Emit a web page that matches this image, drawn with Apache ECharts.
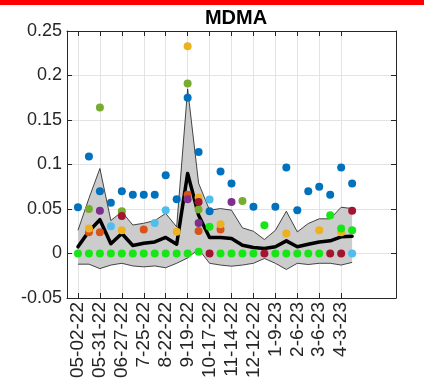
<!DOCTYPE html>
<html>
<head>
<meta charset="utf-8">
<script src="https://cdn.jsdelivr.net/npm/echarts@6/dist/echarts.min.js"></script>
<style>
  html, body { margin: 0; padding: 0; background: #fff; }
  #chart { width: 424px; height: 390px; }
</style>
</head>
<body>
<div id="chart"></div>
<script>
// Tick labels: one every four weeks (every other biweekly sample)
const tickLabels = ['05-02-22', '05-31-22', '06-27-22', '7-25-22', '8-22-22', '9-19-22',
  '10-17-22', '11-14-22', '12-12-22', '1-9-23', '2-6-23', '3-6-23', '4-3-23'];

// 26 biweekly samples per site (null = no visible marker)
const siteBlue = [0.052, 0.109, 0.070, 0.057, 0.070, 0.066, 0.066, 0.066, 0.088, 0.061, 0.175, 0.114, 0.0475,
  0.092, 0.0787, null, 0.0524, null, 0.0524, 0.0966, 0.0487, 0.070, 0.075, 0.066, 0.0966, 0.0787];
const siteOrange = [null, 0.024, 0.024, null, null, null, 0.027, null, null, null, 0.066, 0.0254, null,
  0.027, null, null, null, null, null, null, null, null, null, null, null, null];
const siteYellow = [null, 0.028, null, null, 0.026, null, null, null, null, 0.0243, 0.233, 0.063, null,
  0.033, null, null, null, null, null, 0.0225, null, null, 0.026, null, 0.024, null];
const sitePurple = [null, null, 0.048, null, null, null, null, null, null, null, 0.061, 0.0344, null,
  null, 0.058, null, null, null, null, null, null, null, null, null, null, null];
const siteGreen = [null, 0.050, 0.164, null, 0.0475, null, null, null, null, null, 0.191, 0.0494, null,
  null, null, 0.059, null, null, null, null, null, null, null, null, null, null];
const siteLightBlue = [null, null, null, 0.0307, null, null, null, 0.0344, 0.0485, null, null, null, 0.0607,
  null, null, null, null, null, null, null, null, null, null, null, null, 0];
const siteDarkRed = [null, null, null, null, 0.042, null, null, null, null, null, null, 0.058, 0,
  null, null, null, null, 0, null, null, null, null, null, 0, 0, 0.048];
const siteLime = [0, 0, 0, 0, 0, 0, 0, 0, 0, 0, 0, 0.002, 0.030,
  0, 0, 0, 0, 0.0318, 0, 0, 0, 0, 0, 0.043, 0.028, 0.026];

// Mean across sites and the shaded spread around it
const meanLine = [0.0075, 0.025, 0.038, 0.011, 0.0225, 0.009, 0.0115, 0.013, 0.018, 0.0105, 0.090, 0.043, 0.018,
  0.018, 0.0168, 0.0093, 0.0067, 0.0056, 0.0075, 0.0142, 0.0075, 0.0104, 0.013, 0.0142, 0.0187, 0.0194];
const bandUpper = [0.026, 0.062, 0.0955, 0.037, 0.047, 0.032, 0.034, 0.037, 0.045, 0.030, 0.185, 0.079, 0.0487,
  0.0505, 0.0487, 0.0288, 0.025, 0.0157, 0.026, 0.0475, 0.0243, 0.0337, 0.039, 0.039, 0.052, 0.0505];
const bandLower = [-0.012, -0.012, -0.017, -0.013, -0.011, -0.014, -0.015, -0.014, -0.016, -0.011, -0.005, 0.005, -0.011,
  -0.013, -0.0143, -0.013, -0.011, -0.0056, -0.011, -0.018, -0.011, -0.0124, -0.011, -0.011, -0.013, -0.010];

// Axis slots: one empty slot before the first sample, four after the last
const slotCount = 31;
const slots = Array.from({ length: slotCount }, (_, k) => String(k));
const pad = arr => [null, ...arr, null, null, null, null];
const isTickSlot = idx => idx % 2 === 1 && idx <= 25;

const textColor = '#262626';
const font = 'Liberation Sans, Arial, Helvetica, sans-serif';

const sites = [
  ['Site A', siteBlue, '#0072BD'],
  ['Site B', siteOrange, '#D95319'],
  ['Site C', siteYellow, '#EDB120'],
  ['Site D', sitePurple, '#7E2F8E'],
  ['Site E', siteGreen, '#77AC30'],
  ['Site F', siteLightBlue, '#4DBEEE'],
  ['Site G', siteDarkRed, '#A2142F'],
  ['Site H', siteLime, '#16E616']
];

const chart = echarts.init(document.getElementById('chart'), null, { renderer: 'canvas' });

const xBase = {
  type: 'category',
  data: slots,
  boundaryGap: false,
  axisLine: { show: true, onZero: false, lineStyle: { color: textColor, width: 1 } },
  axisTick: { show: true, inside: true, length: 5, interval: isTickSlot, lineStyle: { color: textColor } }
};
const yBase = {
  type: 'value',
  min: -0.05,
  max: 0.25,
  interval: 0.05,
  axisLine: { show: true, lineStyle: { color: textColor, width: 1 } },
  axisTick: { show: true, inside: true, length: 5, lineStyle: { color: textColor } }
};

const series = [
  {
    type: 'line', stack: 'spread', stackStrategy: 'all', data: pad(bandLower),
    symbol: 'none', lineStyle: { width: 0 }, silent: true, z: 1
  },
  {
    type: 'line', stack: 'spread', stackStrategy: 'all',
    data: pad(bandUpper.map((u, i) => u - bandLower[i])),
    symbol: 'none', lineStyle: { width: 0 },
    areaStyle: { color: '#cccccc', opacity: 1 }, silent: true, z: 1
  },
  {
    type: 'line', data: pad(bandUpper), symbol: 'none',
    lineStyle: { color: '#1a1a1a', width: 0.8 }, silent: true, z: 2
  },
  {
    type: 'line', data: pad(bandLower), symbol: 'none',
    lineStyle: { color: '#1a1a1a', width: 0.8 }, silent: true, z: 2
  },
  {
    type: 'line', data: pad(meanLine), symbol: 'none',
    lineStyle: { color: '#000', width: 3.5, join: 'round', cap: 'round' }, silent: true, z: 3
  }
];
sites.forEach(([name, values, color]) => {
  series.push({
    name, type: 'scatter', data: pad(values), symbol: 'circle', symbolSize: 8,
    itemStyle: { color, opacity: 1 }, silent: true, z: 4
  });
});

chart.setOption({
  animation: false,
  backgroundColor: '#ffffff',
  graphic: [{
    type: 'rect', left: 0, top: 0, z: 10,
    shape: { width: 424, height: 5 },
    style: { fill: '#ff0000' }
  }],
  title: {
    text: 'MDMA',
    left: 231, top: 3, textAlign: 'center',
    textStyle: { fontFamily: font, fontSize: 20, fontWeight: 'bold', color: '#000' }
  },
  grid: { left: 67, top: 31, width: 329, height: 267, containLabel: false },
  xAxis: [
    Object.assign({}, xBase, {
      position: 'bottom',
      axisLabel: {
        show: true, interval: isTickSlot, rotate: 90, margin: 4,
        fontFamily: font, fontSize: 19, color: textColor,
        formatter: (v, idx) => isTickSlot(idx) ? tickLabels[(idx - 1) / 2] : ''
      },
      splitLine: { show: true, interval: isTickSlot, lineStyle: { color: '#e3e3e3', width: 1 } }
    }),
    Object.assign({}, xBase, {
      position: 'top',
      axisLabel: { show: false },
      splitLine: { show: false }
    })
  ],
  yAxis: [
    Object.assign({}, yBase, {
      position: 'left',
      axisLabel: { show: true, margin: 5, fontFamily: font, fontSize: 18, color: textColor },
      splitLine: { show: true, lineStyle: { color: '#e3e3e3', width: 1 } }
    }),
    Object.assign({}, yBase, {
      position: 'right',
      axisLabel: { show: false },
      splitLine: { show: false }
    })
  ],
  series
});
</script>
</body>
</html>
